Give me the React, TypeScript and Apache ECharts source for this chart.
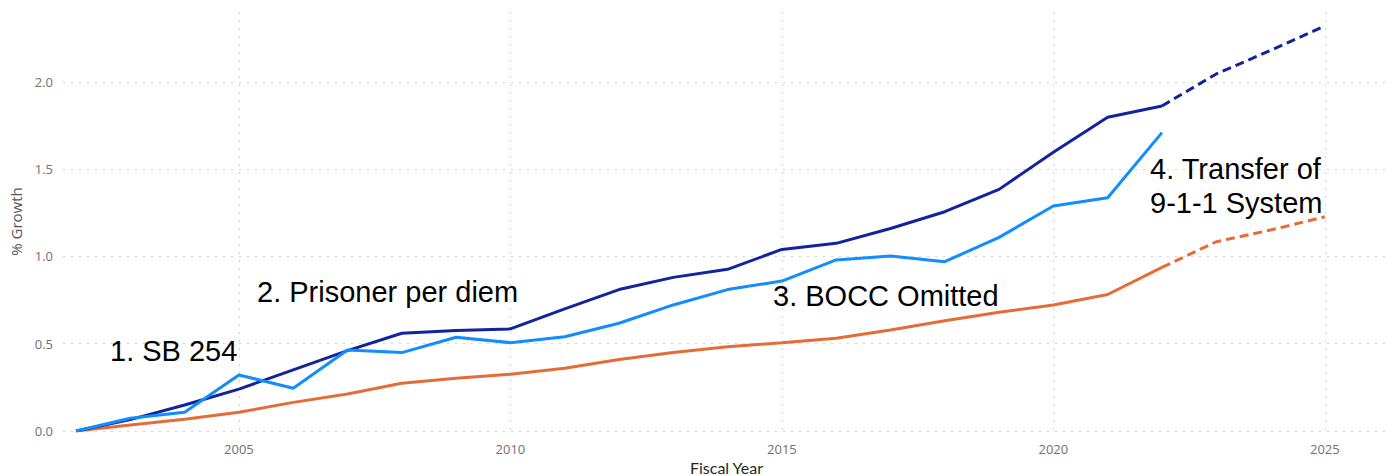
import React, { useEffect, useRef } from "react";
import * as echarts from "echarts";

const years = [2002, 2003, 2004, 2005, 2006, 2007, 2008, 2009, 2010, 2011, 2012, 2013, 2014, 2015, 2016, 2017, 2018, 2019, 2020, 2021, 2022];
const forecastYears = [2022, 2023, 2024, 2025];

const navySeries = [0, 0.065, 0.149, 0.24, 0.35, 0.46, 0.56, 0.575, 0.585, 0.7, 0.81, 0.88, 0.926, 1.04, 1.075, 1.16, 1.256, 1.384, 1.597, 1.797, 1.862];
const navyForecast = [1.862, 2.045, 2.18, 2.32];

const lightBlueSeries = [0, 0.073, 0.107, 0.321, 0.245, 0.464, 0.449, 0.537, 0.506, 0.54, 0.617, 0.722, 0.81, 0.859, 0.98, 1.002, 0.97, 1.109, 1.289, 1.336, 1.709];

const orangeSeries = [0, 0.035, 0.067, 0.107, 0.164, 0.212, 0.273, 0.302, 0.325, 0.359, 0.41, 0.449, 0.483, 0.506, 0.531, 0.578, 0.632, 0.68, 0.722, 0.782, 0.937];
const orangeForecast = [0.937, 1.084, 1.151, 1.227];

const xTicks = [2005, 2010, 2015, 2020, 2025];
const yTicks = [0, 0.5, 1.0, 1.5, 2.0];

const annotations = [
  { text: "1. SB 254", x: 110, y: 351 },
  { text: "2. Prisoner per diem", x: 257, y: 292 },
  { text: "3. BOCC Omitted", x: 773, y: 296 },
  { text: "4. Transfer of", x: 1150, y: 169 },
  { text: "9-1-1 System", x: 1150, y: 203 },
];

const NAVY = "#12239E";
const LIGHT = "#118DFF";
const ORANGE = "#E66C37";

const pairs = (xs: number[], ys: number[]) => xs.map((x, i) => [x, ys[i]]);

export default function App() {
  const ref = useRef<HTMLDivElement>(null);
  useEffect(() => {
    if (!ref.current) return;
    const chart = echarts.init(ref.current, null, { renderer: "svg" });
    const grid = { type: [2, 6], color: "#d2d2d2", width: 1 };
    chart.setOption({
      animation: false,
      backgroundColor: "#ffffff",
      grid: { left: 63, right: 5, top: 12, height: 419, containLabel: false, outerBoundsMode: "none" },
      xAxis: {
        type: "value",
        min: 2001.76,
        max: 2026.2,
        name: "Fiscal Year",
        nameLocation: "middle",
        nameGap: 27,
        nameTextStyle: { fontFamily: "Lato", fontSize: 16, color: "#252423" },
        axisLine: { show: false },
        axisTick: { show: false, customValues: xTicks },
        axisLabel: {
          customValues: xTicks,
          margin: 11,
          fontFamily: "Open Sans",
          fontSize: 13,
          color: "#707070",
          formatter: (v: number) => String(v),
        },
        splitLine: { show: true, lineStyle: grid },
      },
      yAxis: {
        type: "value",
        min: 0,
        max: 2.4,
        name: "% Growth",
        nameLocation: "middle",
        nameGap: 38,
        nameTextStyle: { fontFamily: "Open Sans", fontSize: 15, color: "#555555" },
        axisLine: { show: false },
        axisTick: { show: false, customValues: yTicks },
        axisLabel: {
          customValues: yTicks,
          margin: 10,
          fontFamily: "Open Sans",
          fontSize: 13,
          color: "#707070",
          formatter: (v: number) => v.toFixed(1),
        },
        splitLine: { show: true, lineStyle: grid },
      },
      series: [
        {
          name: "Orange",
          type: "line",
          data: pairs(years, orangeSeries),
          showSymbol: false,
          lineStyle: { color: ORANGE, width: 3 },
          itemStyle: { color: ORANGE },
        },
        {
          name: "Orange forecast",
          type: "line",
          data: pairs(forecastYears, orangeForecast),
          showSymbol: false,
          lineStyle: { color: ORANGE, width: 3, type: [9, 5] },
          itemStyle: { color: ORANGE },
        },
        {
          name: "Navy",
          type: "line",
          data: pairs(years, navySeries),
          showSymbol: false,
          lineStyle: { color: NAVY, width: 3 },
          itemStyle: { color: NAVY },
        },
        {
          name: "Navy forecast",
          type: "line",
          data: pairs(forecastYears, navyForecast),
          showSymbol: false,
          lineStyle: { color: NAVY, width: 3, type: [9, 5] },
          itemStyle: { color: NAVY },
        },
        {
          name: "Light blue",
          type: "line",
          data: pairs(years, lightBlueSeries),
          showSymbol: false,
          lineStyle: { color: LIGHT, width: 3 },
          itemStyle: { color: LIGHT },
        },
      ],
      graphic: annotations.map((a) => ({
        type: "text",
        x: a.x,
        y: a.y,
        z: 100,
        style: {
          text: a.text,
          fontFamily: "Liberation Sans",
          fontSize: 29,
          fill: "#000000",
          verticalAlign: "middle",
          align: "left",
        },
      })),
    });
    return () => chart.dispose();
  }, []);
  return (
    <div
      ref={ref}
      style={{ position: "absolute", left: 0, top: 0, width: 1395, height: 476, background: "#fff" }}
    />
  );
}
